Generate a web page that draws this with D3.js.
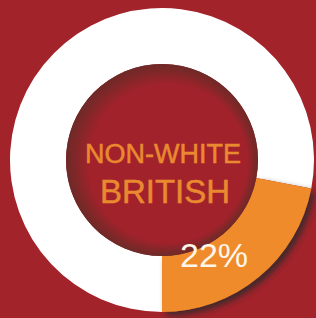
<!DOCTYPE html>
<html>
<head>
<meta charset="utf-8">
<script src="https://cdn.jsdelivr.net/npm/d3@7"></script>
<style>
  html, body { margin: 0; padding: 0; background: #a3232b; }
  svg { display: block; }
  text { font-family: "Liberation Sans", Arial, sans-serif; }
</style>
</head>
<body>
<svg id="donut"></svg>
<script>
// shares of population (%)
const categories = ["Other", "Non-white British"];
const values = [78, 22];
const centreLines = ["NON-WHITE", "BRITISH"];
const valueLabel = "22%";

const W = 316, H = 318;
const cx = 162, cy = 160;
const outerR = 152, innerR = 96;

const COLORS = { "Other": "#ffffff", "Non-white British": "#ef8b2c" };

const svg = d3.select("#donut").attr("width", W).attr("height", H);

svg.append("rect").attr("width", W).attr("height", H).attr("fill", "#a3232b");

const defs = svg.append("defs");
const shadow = defs.append("filter").attr("id", "shadow")
    .attr("x", "-20%").attr("y", "-20%").attr("width", "150%").attr("height", "150%");
shadow.append("feDropShadow")
    .attr("dx", 4).attr("dy", 4).attr("stdDeviation", 3)
    .attr("flood-color", "#2e2a2a").attr("flood-opacity", 0.85);

// hole shading, darker toward the upper-left edge
const hole = defs.append("radialGradient").attr("id", "hole")
    .attr("cx", "50%").attr("cy", "50%").attr("r", "50%")
    .attr("fx", "68%").attr("fy", "60%");
hole.append("stop").attr("offset", "0.82").attr("stop-color", "#a2222b");
hole.append("stop").attr("offset", "1").attr("stop-color", "#6c2a27");

const g = svg.append("g").attr("transform", `translate(${cx},${cy})`);

const pie = d3.pie().sort(null)
    .startAngle(Math.PI).endAngle(3 * Math.PI);
const arcs = pie(values).map((a, i) => ({ ...a, key: categories[i] }));

const arc = d3.arc().innerRadius(innerR).outerRadius(outerR);

g.selectAll(".slice").data(arcs).enter().append("path")
    .attr("class", "slice")
    .attr("d", arc)
    .attr("fill", d => COLORS[d.key])
    .attr("filter", d => d.key === "Non-white British" ? "url(#shadow)" : null);

g.append("circle").attr("r", innerR).attr("fill", "url(#hole)");

g.append("text")
    .attr("x", 1).attr("y", 3)
    .attr("text-anchor", "middle")
    .attr("font-size", 27).attr("fill", "#e98a30")
    .attr("stroke", "#e98a30").attr("stroke-width", 0.5)
    .text(centreLines[0]);

g.append("text")
    .attr("x", 3).attr("y", 43)
    .attr("text-anchor", "middle")
    .attr("font-size", 33).attr("fill", "#e98a30")
    .attr("stroke", "#e98a30").attr("stroke-width", 0.5)
    .text(centreLines[1]);

g.append("text")
    .attr("x", 52).attr("y", 107)
    .attr("text-anchor", "middle")
    .attr("font-size", 34).attr("fill", "#fff6ea")
    .text(valueLabel);
</script>
</body>
</html>
